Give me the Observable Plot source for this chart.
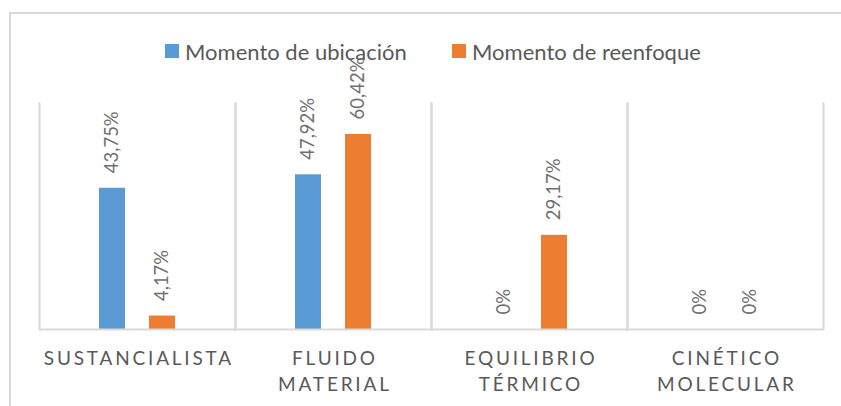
<!DOCTYPE html>
<html>
<head>
<meta charset="utf-8">
<script src="https://cdn.jsdelivr.net/npm/d3@7"></script>
<script src="https://cdn.jsdelivr.net/npm/@observablehq/plot@0.6"></script>
<style>
  html, body { margin: 0; padding: 0; background: #fff; }
  #wrap { position: relative; width: 841px; height: 406px; overflow: hidden; font-family: Lato, sans-serif; }
  #border { position: absolute; left: 9px; top: 12px; width: 900px; height: 500px; border-left: 2px solid #d9d9d9; border-top: 2px solid #d9d9d9; box-sizing: border-box; }
  #chart { position: absolute; left: 0; top: 0; }
  .leg { position: absolute; top: 37px; height: 28px; display: flex; align-items: center; font-size: 22px; color: #595959; white-space: nowrap; }
  .leg .sw { width: 14px; height: 14px; margin-right: 6px; }
</style>
</head>
<body>
<div id="wrap">
  <div id="border"></div>
  <div id="chart"></div>
  <div id="legend"></div>
</div>
<script>
const categories = ["SUSTANCIALISTA", "FLUIDO MATERIAL", "EQUILIBRIO TÉRMICO", "CINÉTICO MOLECULAR"];
const labelLine1 = ["SUSTANCIALISTA", "FLUIDO", "EQUILIBRIO", "CINÉTICO"];
const labelLine2 = ["", "MATERIAL", "TÉRMICO", "MOLECULAR"];
const series = ["Momento de ubicación", "Momento de reenfoque"];
const ubicacion = [43.75, 47.92, 0, 0];
const reenfoque = [4.17, 60.42, 29.17, 0];
const colors = ["#5B9BD5", "#ED7D31"];

const rows = [];
categories.forEach((c, i) => {
  rows.push({category: c, series: series[0], value: ubicacion[i]});
  rows.push({category: c, series: series[1], value: reenfoque[i]});
});
const fmt = v => v === 0 ? "0%" : v.toFixed(2).replace(".", ",") + "%";
const catRows = categories.map((c, i) => ({category: c, l1: labelLine1[i], l2: labelLine2[i]}));

const chart = Plot.plot({
  width: 841,
  height: 406,
  marginLeft: 39,
  marginRight: 18,
  marginTop: 103,
  marginBottom: 77,
  style: {fontFamily: "Lato, sans-serif", background: "transparent"},
  fx: {domain: categories, padding: 0, axis: null},
  x: {domain: series, paddingInner: 0.48, paddingOuter: 1.2, axis: null},
  y: {domain: [0, 70], axis: null},
  color: {domain: series, range: colors},
  marks: [
    Plot.frame({anchor: "left", stroke: "#d9d9d9", strokeWidth: 2}),
    Plot.frame({anchor: "right", stroke: "#d9d9d9", strokeWidth: 2}),
    Plot.barY(rows, {fx: "category", x: "series", y: "value", fill: "series"}),
    Plot.ruleY([0], {stroke: "#d9d9d9", strokeWidth: 2}),
    Plot.text(rows, {fx: "category", x: "series", y: "value", text: d => fmt(d.value),
      rotate: -90, textAnchor: "start", lineAnchor: "middle", dy: -15,
      fill: "#6f6f6f", fontSize: 18.5}),
    Plot.text(catRows, {fx: "category", text: "l1", frameAnchor: "bottom", lineAnchor: "bottom",
      dy: 35, dx: 1.4, fill: "#595959", fontSize: 19}),
    Plot.text(catRows, {fx: "category", text: "l2", frameAnchor: "bottom", lineAnchor: "bottom",
      dy: 61, dx: 1.4, fill: "#595959", fontSize: 19})
  ]
});
const catLabelSet = new Set([...labelLine1, ...labelLine2].filter(s => s));
d3.select(chart).selectAll("text")
  .filter(function() { return catLabelSet.has(this.textContent); })
  .style("letter-spacing", "2.8px");
document.getElementById("chart").appendChild(chart);

const legend = document.getElementById("legend");
const legX = [165, 452];
series.forEach((s, i) => {
  const item = document.createElement("div");
  item.className = "leg";
  item.style.left = legX[i] + "px";
  const sw = document.createElement("span");
  sw.className = "sw";
  sw.style.background = colors[i];
  const tx = document.createElement("span");
  tx.textContent = s;
  item.appendChild(sw);
  item.appendChild(tx);
  legend.appendChild(item);
});
</script>
</body>
</html>
